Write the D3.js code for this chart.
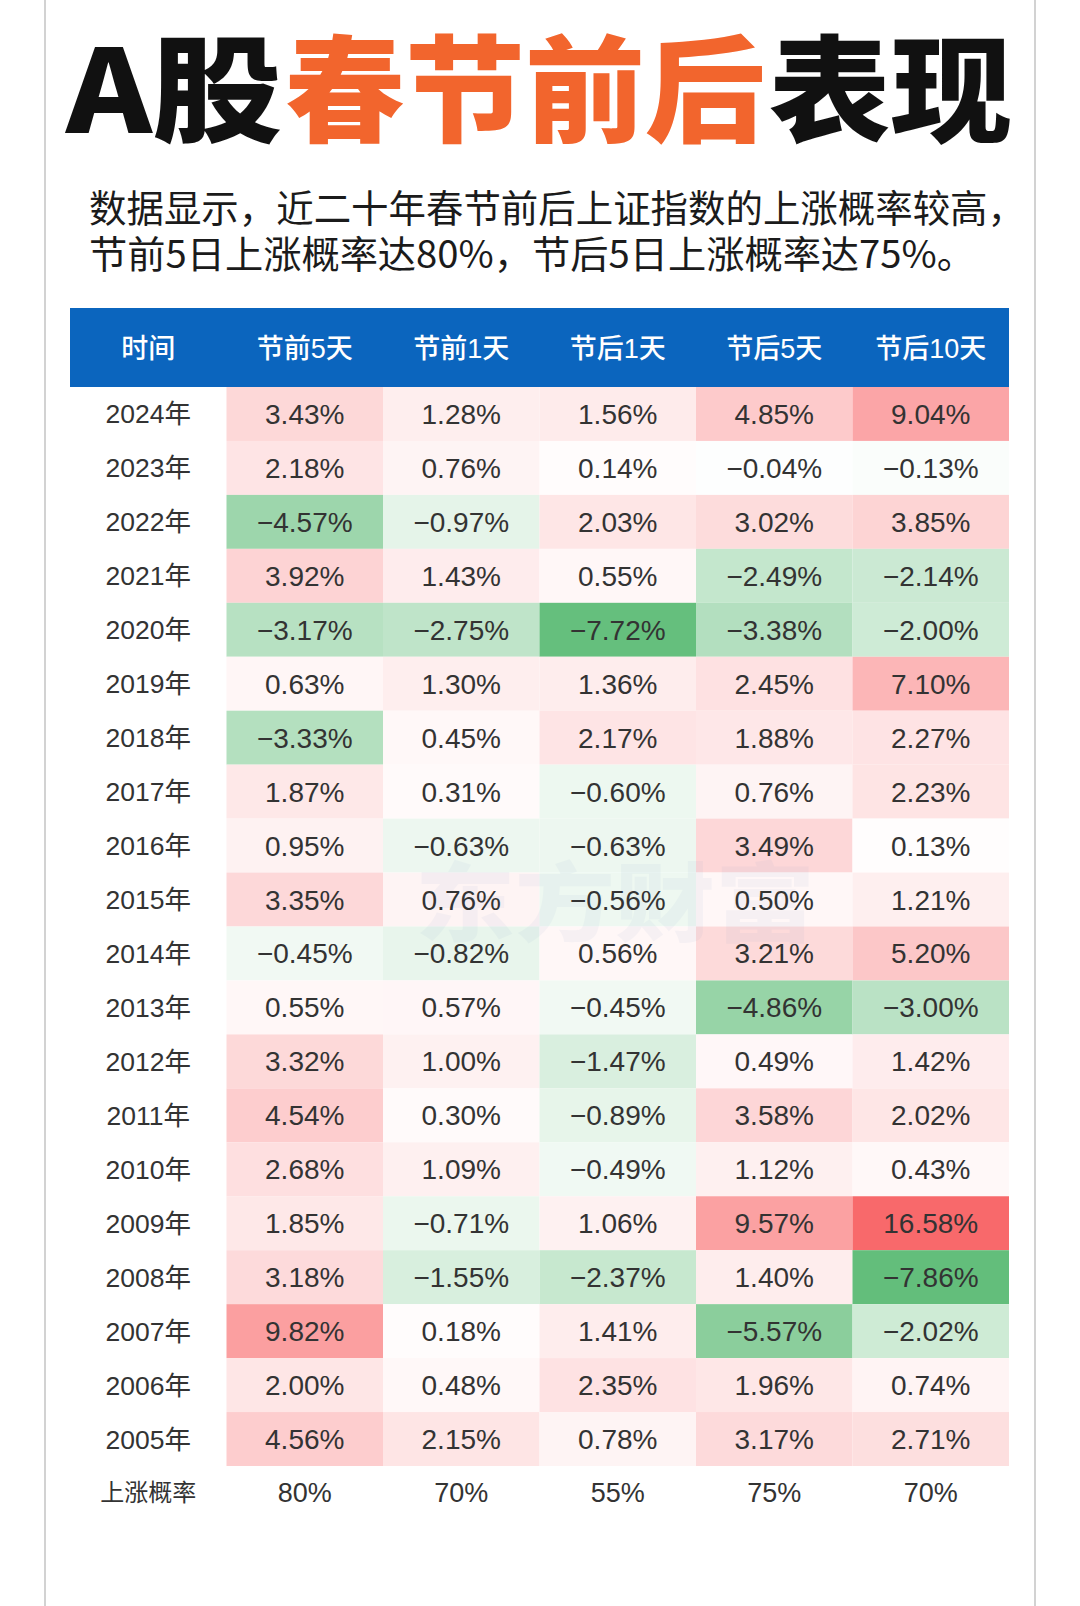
<!DOCTYPE html>
<html>
<head>
<meta charset="utf-8">
<script src="https://cdn.jsdelivr.net/npm/d3@7"></script>
<style>
  html, body { margin: 0; padding: 0; background: #ffffff; }
  svg { display: block; }
</style>
</head>
<body>
<script>
// ---------- DATA ----------
const titleParts = ["A股", "春节前后", "表现"];
const titleColors = ["black", "orange", "black"];
const subtitleLines = [
  "数据显示，近二十年春节前后上证指数的上涨概率较高，",
  "节前5日上涨概率达80%，节后5日上涨概率达75%。"
];
const firstHeader = "时间";
const columns = ["节前5天", "节前1天", "节后1天", "节后5天", "节后10天"];
const years = ["2024年","2023年","2022年","2021年","2020年","2019年","2018年","2017年","2016年","2015年",
               "2014年","2013年","2012年","2011年","2010年","2009年","2008年","2007年","2006年","2005年"];
const pre5   = [3.43, 2.18, -4.57, 3.92, -3.17, 0.63, -3.33, 1.87, 0.95, 3.35, -0.45, 0.55, 3.32, 4.54, 2.68, 1.85, 3.18, 9.82, 2.00, 4.56];
const pre1   = [1.28, 0.76, -0.97, 1.43, -2.75, 1.30, 0.45, 0.31, -0.63, 0.76, -0.82, 0.57, 1.00, 0.30, 1.09, -0.71, -1.55, 0.18, 0.48, 2.15];
const post1  = [1.56, 0.14, 2.03, 0.55, -7.72, 1.36, 2.17, -0.60, -0.63, -0.56, 0.56, -0.45, -1.47, -0.89, -0.49, 1.06, -2.37, 1.41, 2.35, 0.78];
const post5  = [4.85, -0.04, 3.02, -2.49, -3.38, 2.45, 1.88, 0.76, 3.49, 0.50, 3.21, -4.86, 0.49, 3.58, 1.12, 9.57, 1.40, -5.57, 1.96, 3.17];
const post10 = [9.04, -0.13, 3.85, -2.14, -2.00, 7.10, 2.27, 2.23, 0.13, 1.21, 5.20, -3.00, 1.42, 2.02, 0.43, 16.58, -7.86, -2.02, 0.74, 2.71];
const summaryLabel = "上涨概率";
const upProb = ["80%", "70%", "55%", "75%", "70%"];
const watermark = "东方财富";

// ---------- LAYOUT ----------
const W = 1080, H = 1606;
const series = [pre5, pre1, post1, post5, post10];
const cells = [];
series.forEach((arr, ci) => arr.forEach((v, ri) => cells.push({ col: columns[ci], year: years[ri], v })));

const svg = d3.select("body").append("svg").attr("width", W).attr("height", H);
svg.append("rect").attr("width", W).attr("height", H).attr("fill", "#ffffff");

// side border lines
svg.selectAll("line.side").data([45, 1035]).join("line")
  .attr("class", "side")
  .attr("x1", d => d).attr("x2", d => d).attr("y1", 0).attr("y2", H)
  .attr("stroke", "#d2d2d2").attr("stroke-width", 2);

const CJK = "'Noto Sans CJK SC', 'Noto Sans', sans-serif";
const NUM = "'Liberation Sans', Arial, 'Noto Sans CJK SC', sans-serif";

// Title (three parts, each fitted to its measured span)
const colorMap = { black: "#111111", orange: "#F2652D" };
const titleSpans = [[66, 282], [285, 765], [769, 1012]];
svg.selectAll("text.title").data(titleParts).join("text")
  .attr("class", "title")
  .attr("x", (d, i) => titleSpans[i][0]).attr("y", 133)
  .attr("font-family", CJK).attr("font-weight", 900).attr("font-size", 116)
  .attr("fill", (d, i) => colorMap[titleColors[i]])
  .attr("textLength", (d, i) => titleSpans[i][1] - titleSpans[i][0])
  .attr("lengthAdjust", "spacingAndGlyphs")
  .text(d => d);

// Subtitle
const subLens = [936, 886];
svg.selectAll("text.sub").data(subtitleLines).join("text")
  .attr("class", "sub")
  .attr("x", 89).attr("y", (d, i) => 222 + i * 46)
  .attr("font-family", CJK).attr("font-size", 37.5).attr("fill", "#1b1b1b")
  .attr("textLength", (d, i) => subLens[i]).attr("lengthAdjust", "spacingAndGlyphs")
  .text(d => d);

// Scales
const x = d3.scaleBand().domain([firstHeader, ...columns]).range([70, 1009]);
const headerTop = 308, headerBottom = 387, rowH = 53.95;
const y = d3.scaleBand().domain(years).range([headerBottom, headerBottom + rowH * years.length]);
const vals = cells.map(c => c.v);
const color = d3.scaleDivergingPow()
  .exponent(0.85)
  .domain([d3.min(vals), 0, d3.max(vals)])
  .interpolator(d3.piecewise(d3.interpolateRgb, ["#63BE7B", "#FFFFFF", "#F8696B"]));

// Header
svg.append("rect").attr("x", x.range()[0]).attr("y", headerTop)
  .attr("width", x.range()[1] - x.range()[0]).attr("height", headerBottom - headerTop)
  .attr("fill", "#0B65BE");
svg.selectAll("text.hdr").data(x.domain()).join("text")
  .attr("class", "hdr")
  .attr("x", d => x(d) + x.bandwidth() / 2).attr("y", (headerTop + headerBottom) / 2 + 10)
  .attr("text-anchor", "middle").attr("fill", "#ffffff")
  .attr("font-family", "'Liberation Sans', 'Noto Sans CJK SC', sans-serif")
  .attr("font-weight", 500).attr("font-size", 27)
  .text(d => d);

// Cells
svg.selectAll("rect.cell").data(cells).join("rect")
  .attr("class", "cell")
  .attr("x", d => x(d.col)).attr("y", d => y(d.year))
  .attr("width", x.bandwidth()).attr("height", y.bandwidth())
  .attr("fill", d => color(d.v));

// faint watermark (behind the numbers)
svg.append("text")
  .attr("x", 615).attr("y", 935)
  .attr("text-anchor", "middle")
  .attr("font-family", CJK).attr("font-weight", 900).attr("font-size", 86)
  .attr("fill", "#6f93c4").attr("opacity", 0.06)
  .attr("textLength", 400).attr("lengthAdjust", "spacingAndGlyphs")
  .text(watermark);

// Year labels
svg.selectAll("text.year").data(years).join("text")
  .attr("class", "year")
  .attr("x", x(firstHeader) + x.bandwidth() / 2).attr("y", d => y(d) + y.bandwidth() / 2 + 9.5)
  .attr("text-anchor", "middle").attr("fill", "#333333")
  .attr("font-family", NUM).attr("font-size", 26.5)
  .text(d => d);

// Cell values
const fmt = v => (v < 0 ? "\u2212" : "") + Math.abs(v).toFixed(2) + "%";
svg.selectAll("text.val").data(cells).join("text")
  .attr("class", "val")
  .attr("x", d => x(d.col) + x.bandwidth() / 2).attr("y", d => y(d.year) + y.bandwidth() / 2 + 10)
  .attr("text-anchor", "middle").attr("fill", "#333333")
  .attr("font-family", NUM).attr("font-size", 28)
  .text(d => fmt(d.v));

// Summary row
const sumY = headerBottom + rowH * years.length + rowH / 2 - 1;
svg.append("text")
  .attr("x", x(firstHeader) + x.bandwidth() / 2).attr("y", sumY + 9)
  .attr("text-anchor", "middle").attr("fill", "#333333")
  .attr("font-family", CJK).attr("font-size", 24)
  .text(summaryLabel);
svg.selectAll("text.prob").data(upProb).join("text")
  .attr("class", "prob")
  .attr("x", (d, i) => x(columns[i]) + x.bandwidth() / 2).attr("y", sumY + 10)
  .attr("text-anchor", "middle").attr("fill", "#333333")
  .attr("font-family", NUM).attr("font-size", 27)
  .text(d => d);
</script>
</body>
</html>
